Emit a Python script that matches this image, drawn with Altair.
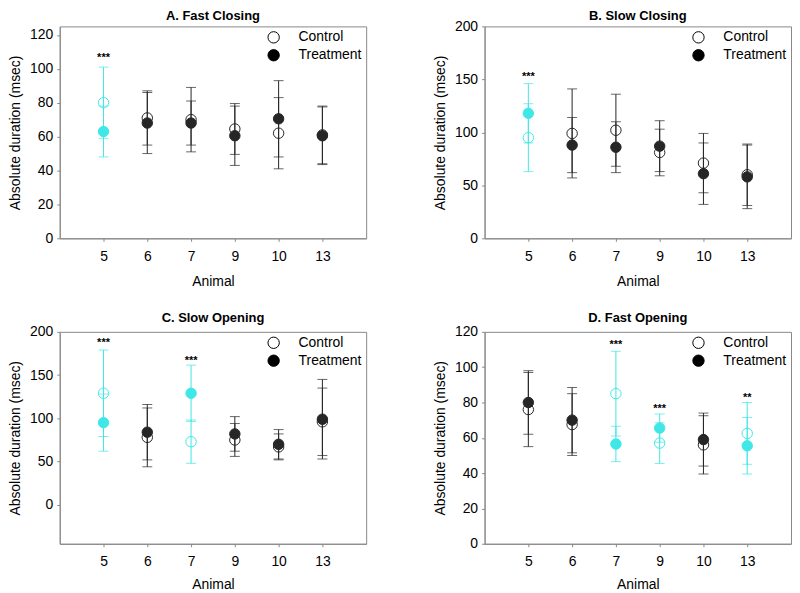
import altair as alt
import pandas as pd

animals = ["5", "6", "7", "9", "10", "13"]
groups = ["Control", "Treatment"]

# A. Fast Closing
a_ctrl_mean = [80, 71, 70, 64.5, 62, 61]
a_ctrl_sd = [21, 16, 19, 15, 21, 17]
a_trt_mean = [63, 68, 68, 60.5, 70.5, 60.5]
a_trt_sd = [15, 18, 13, 17.5, 22.5, 17]
a_sig = [True, False, False, False, False, False]
a_star_animal = ["5"]
a_star_text = ["***"]
a_star_y = [108]

# B. Slow Closing
b_ctrl_mean = [95, 99, 102, 81, 71, 60]
b_ctrl_sd = [32, 42, 34, 22, 28, 29]
b_trt_mean = [118, 88, 86, 87, 61, 58]
b_trt_sd = [28, 26, 24, 24, 29, 30]
b_sig = [True, False, False, False, False, False]
b_star_animal = ["5"]
b_star_text = ["***"]
b_star_y = [155]

# C. Slow Opening
c_ctrl_mean = [129, 78, 73, 75, 67, 96]
c_ctrl_sd = [50, 34, 25, 19, 15, 39]
c_trt_mean = [95, 84, 129, 82, 70, 99]
c_trt_sd = [33, 32, 32.5, 20, 17, 46]
c_sig = [True, False, True, False, False, False]
c_star_animal = ["5", "7"]
c_star_text = ["***", "***"]
c_star_y = [190, 170]

# D. Fast Opening
d_ctrl_mean = [76, 67.5, 85, 57, 56, 62.5]
d_ctrl_sd = [21, 17.5, 24, 11.5, 16.5, 17.5]
d_trt_mean = [80, 70, 56.5, 65.5, 59, 55.5]
d_trt_sd = [18, 18.5, 10, 8, 15, 16]
d_sig = [False, False, True, True, False, True]
d_star_animal = ["7", "9", "13"]
d_star_text = ["***", "***", "**"]
d_star_y = [114.5, 78, 84]

CYAN = "#3fe8e6"
DARK = "#262626"
FONT = "Liberation Sans"


def build_df(cm, cs, tm, ts, sig):
    rows = []
    for grp, means, sds in zip(groups, (cm, tm), (cs, ts)):
        for a, m, s, g in zip(animals, means, sds, sig):
            rows.append({"Animal": a, "Group": grp, "mean": m,
                         "lo": m - s, "hi": m + s,
                         "col": CYAN if g else DARK,
                         "fo": 1 if grp == "Treatment" else 0})
    return pd.DataFrame(rows)


def panel(title, cm, cs, tm, ts, sig, sa, st, sy, ydom, yticks,
          title_offset, xlabpad, xtitlepad):
    df = build_df(cm, cs, tm, ts, sig)
    stars = pd.DataFrame({"Animal": sa, "txt": st, "y": sy})
    x = alt.X("Animal:N", sort=animals,
              scale=alt.Scale(type="point", padding=1),
              axis=alt.Axis(title="Animal", labelAngle=0, titlePadding=xtitlepad,
                            labelPadding=xlabpad, tickSize=3))
    yscale = alt.Scale(domain=ydom, nice=False, zero=False)
    yaxis = alt.Axis(title="Absolute duration (msec)", values=yticks,
                     tickSize=3, labelPadding=4, titlePadding=7, grid=False)

    def Y(field):
        return alt.Y(field, scale=yscale, axis=yaxis)

    leg_kw = dict(title=None, orient="top-right", offset=4,
                  labelFontSize=14, labelFont=FONT, labelColor="black",
                  symbolSize=130, symbolStrokeColor="black",
                  symbolStrokeWidth=1, symbolOpacity=1,
                  labelOffset=18, rowPadding=2)

    base = alt.Chart(df)
    rule = base.mark_rule(strokeWidth=1).encode(
        x=x, y=Y("lo:Q"), y2="hi:Q",
        color=alt.Color("col:N", scale=None))
    cap_lo = base.mark_tick(size=10, thickness=1, orient="horizontal").encode(
        x=x, y=Y("lo:Q"), color=alt.Color("col:N", scale=None))
    cap_hi = base.mark_tick(size=10, thickness=1, orient="horizontal").encode(
        x=x, y=Y("hi:Q"), color=alt.Color("col:N", scale=None))
    pts = base.mark_point(filled=True, size=110, strokeWidth=1, opacity=1).encode(
        x=x, y=Y("mean:Q"),
        fill=alt.Fill("col:N", scale=None),
        stroke=alt.Stroke("col:N", scale=None),
        fillOpacity=alt.FillOpacity("fo:Q", scale=None))
    leg = base.mark_point(filled=True, size=110, opacity=0).encode(
        x=x, y=Y("mean:Q"),
        shape=alt.Shape("Group:N",
                        scale=alt.Scale(domain=groups, range=["circle", "circle"]),
                        legend=alt.Legend(**leg_kw)),
        fill=alt.Fill("Group:N", scale=alt.Scale(domain=groups, range=["white", "black"]),
                      legend=alt.Legend(**leg_kw)))
    txt = alt.Chart(stars).mark_text(fontSize=11, fontWeight="bold", dy=3,
                                     color="black", font=FONT).encode(
        x=x, y=Y("y:Q"), text="txt:N")
    return alt.layer(rule, cap_lo, cap_hi, pts, leg, txt).properties(
        width=308, height=213,
        title=alt.TitleParams(title, fontSize=13, fontWeight="bold", font=FONT,
                              anchor="middle", offset=title_offset, frame="group"))


pa = panel("A. Fast Closing", a_ctrl_mean, a_ctrl_sd, a_trt_mean, a_trt_sd, a_sig,
           a_star_animal, a_star_text, a_star_y, [0, 125], [0, 20, 40, 60, 80, 100, 120],
           3, 8, 11)
pb = panel("B. Slow Closing", b_ctrl_mean, b_ctrl_sd, b_trt_mean, b_trt_sd, b_sig,
           b_star_animal, b_star_text, b_star_y, [0, 200], [0, 50, 100, 150, 200],
           -4, 8, 11)
pc = panel("C. Slow Opening", c_ctrl_mean, c_ctrl_sd, c_trt_mean, c_trt_sd, c_sig,
           c_star_animal, c_star_text, c_star_y, [-45, 200], [0, 50, 100, 150, 200],
           0, 8, 9)
pd_ = panel("D. Fast Opening", d_ctrl_mean, d_ctrl_sd, d_trt_mean, d_trt_sd, d_sig,
            d_star_animal, d_star_text, d_star_y, [0, 120], [0, 20, 40, 60, 80, 100, 120],
            0, 8, 9)

chart = alt.concat(pa, pb, pc, pd_, columns=2, spacing={"row": 22, "column": 66}).resolve_scale(
    fill="independent", shape="independent", x="independent", y="independent"
).resolve_legend(fill="independent", shape="independent").properties(
    padding={"left": 0, "top": 0, "right": 0, "bottom": 0}, background="white"
).configure_view(stroke="#888888", strokeWidth=1).configure_axis(
    domainColor="#888888", tickColor="#888888", labelColor="black", titleColor="black",
    labelFont=FONT, titleFont=FONT, labelFontSize=14, titleFontSize=14,
    titleFontWeight="normal", labelOverlap=False
)

chart.save("out.html", embed_options={"renderer": "svg", "actions": False})
